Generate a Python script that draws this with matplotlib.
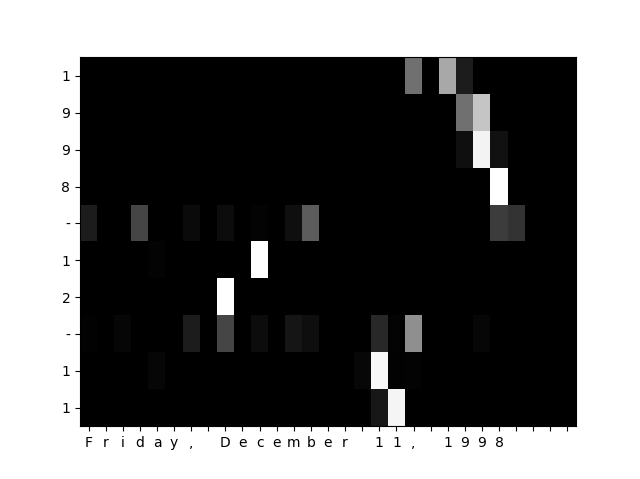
import numpy as np
import matplotlib
matplotlib.use('Agg')
import matplotlib.pyplot as plt

# input characters (x axis) and output characters (y axis)
src_text = 'Friday, December 11, 1998'
n_pad = 4
out_text = '1998-12-11'

# attention weights, one row per output character (29 input positions)
row_1a = [0, 0, 0, 0, 0, 0, 0, 0, 0, 0, 0, 0, 0, 0, 0, 0, 0, 0, 0, .44, 0, .66, .11, 0, 0, 0, 0, 0, 0]
row_9a = [0, 0, 0, 0, 0, 0, 0, 0, 0, 0, 0, 0, 0, 0, 0, 0, 0, 0, 0, 0, 0, 0, .44, .77, 0, 0, 0, 0, 0]
row_9b = [0, 0, 0, 0, 0, 0, 0, 0, 0, 0, 0, 0, 0, 0, 0, 0, 0, 0, 0, 0, 0, 0, .06, .95, .07, 0, 0, 0, 0]
row_8 = [0, 0, 0, 0, 0, 0, 0, 0, 0, 0, 0, 0, 0, 0, 0, 0, 0, 0, 0, 0, 0, 0, 0, 0, 1.0, 0, 0, 0, 0]
row_dash1 = [.11, 0, 0, .27, 0, 0, .04, 0, .05, 0, .015, 0, .06, .36, 0, 0, 0, 0, 0, 0, 0, 0, 0, 0, .24, .2, 0, 0, 0]
row_1b = [0, 0, 0, 0, .015, 0, 0, 0, 0, 0, 1.0, 0, 0, 0, 0, 0, 0, 0, 0, 0, 0, 0, 0, 0, 0, 0, 0, 0, 0]
row_2 = [0, 0, 0, 0, 0, 0, 0, 0, 1.0, 0, 0, 0, 0, 0, 0, 0, 0, 0, 0, 0, 0, 0, 0, 0, 0, 0, 0, 0, 0]
row_dash2 = [.01, 0, .025, 0, 0, 0, .11, 0, .27, 0, .05, 0, .085, .055, 0, 0, 0, .16, .015, .56, 0, 0, 0, .025, 0, 0, 0, 0, 0]
row_1c = [0, 0, 0, 0, .025, 0, 0, 0, 0, 0, 0, 0, 0, 0, 0, 0, .03, .97, .01, .015, 0, 0, 0, 0, 0, 0, 0, 0, 0]
row_1d = [0, 0, 0, 0, 0, 0, 0, 0, 0, 0, 0, 0, 0, 0, 0, 0, 0, .09, .96, 0, 0, 0, 0, 0, 0, 0, 0, 0, 0]

weights = np.array([row_1a, row_9a, row_9b, row_8, row_dash1,
                    row_1b, row_2, row_dash2, row_1c, row_1d])

x_labels = list(src_text) + [''] * n_pad
y_labels = list(out_text)

fig, ax = plt.subplots(figsize=(6.4, 4.79), dpi=100)
ax.imshow(weights, cmap='gray', aspect='auto', vmin=0, vmax=1, interpolation='nearest')
ax.set_xticks(range(len(x_labels)))
ax.set_xticklabels(x_labels)
ax.set_yticks(range(len(y_labels)))
ax.set_yticklabels(y_labels)

plt.savefig('out.png')
